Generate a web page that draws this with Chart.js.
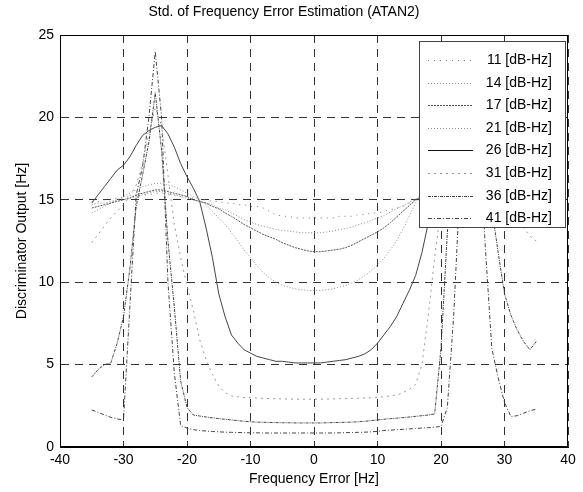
<!DOCTYPE html>
<html><head><meta charset="utf-8">
<script src="https://cdn.jsdelivr.net/npm/chart.js@4.4.0/dist/chart.umd.min.js"></script>
<style>html,body{margin:0;padding:0;background:#fff;}</style>
</head><body>
<canvas id="c" width="583" height="492" style="display:block;width:583px;height:492px"></canvas>
<script>
const freqHz = [-35,-34,-33,-32,-31,-30,-29,-28,-27,-26,-25,-24,-23,-22,-21,-20,-19,-18,-17,-16,
-15,-14,-13,-12,-11,-10,-9,-8,-7,-6,-5,-4,-3,-2,-1,0,1,2,3,4,5,6,7,8,9,10,11,12,13,14,
15,16,17,18,19,20,21,22,23,24,25,26,27,28,29,30,31,32,33,34,35];

const cn0Labels = ['11 [dB-Hz]','14 [dB-Hz]','17 [dB-Hz]','21 [dB-Hz]','26 [dB-Hz]','31 [dB-Hz]','36 [dB-Hz]','41 [dB-Hz]'];

const std11 = [14.9,14.9,15.0,15.0,15.1,15.1,15.2,15.2,15.3,15.3,
15.4,15.4,15.3,15.3,15.2,15.2,15.1,15.0,15.0,14.9,
14.9,14.8,14.8,14.7,14.7,14.6,14.6,14.5,14.3,14.1,
14.0,14.0,13.9,13.9,13.9,13.9,13.9,13.9,13.9,14.0,
14.0,14.0,14.1,14.1,14.2,14.2,14.3,14.4,14.5,14.6,
14.8,15.0,15.1,15.2,15.3,15.3,15.3,15.3,15.4,15.4,
15.4,15.4,15.3,15.3,15.2,15.2,15.1,15.1,15.0,15.0,15.0];

const std14 = [14.7,14.8,14.8,14.9,15.0,15.0,15.1,15.2,15.3,15.4,
15.5,15.5,15.4,15.3,15.2,15.1,15.0,14.9,14.8,14.7,
14.5,14.4,14.2,14.0,13.8,13.65,13.5,13.4,13.3,13.2,
13.15,13.1,13.05,13.0,13.0,13.0,13.0,13.05,13.1,13.2,
13.25,13.35,13.5,13.6,13.75,13.9,14.05,14.25,14.45,14.65,
14.85,15.05,15.2,15.3,15.4,15.4,15.4,15.4,15.5,15.5,
15.5,15.5,15.4,15.4,15.3,15.2,15.2,15.1,15.0,15.0,14.9];

const std17 = [14.5,14.6,14.7,14.8,14.9,15.0,15.1,15.3,15.4,15.5,
15.6,15.6,15.5,15.4,15.3,15.2,15.0,14.9,14.8,14.6,
14.45,14.2,14.0,13.75,13.5,13.3,13.1,12.9,12.75,12.6,
12.4,12.25,12.1,12.0,11.9,11.85,11.85,11.9,11.95,12.0,
12.1,12.25,12.45,12.65,12.85,13.05,13.3,13.6,13.95,14.3,
14.65,15.0,15.2,15.4,15.5,15.6,15.6,15.6,15.6,15.7,
15.7,15.6,15.6,15.5,15.4,15.3,15.2,15.1,15.0,14.9,14.8];

const std21 = [14.2,14.4,14.6,14.8,15.0,15.2,15.4,15.6,15.8,15.9,
16.0,16.0,15.9,15.8,15.6,15.4,15.2,15.0,14.7,14.3,
13.9,13.5,13.0,12.5,11.95,11.5,11.0,10.6,10.25,10.0,
9.8,9.7,9.6,9.55,9.5,9.5,9.5,9.55,9.6,9.7,
9.8,9.95,10.15,10.4,10.7,11.05,11.45,11.95,12.5,13.2,
14.0,14.8,15.4,15.8,16.0,16.1,16.1,16.0,16.0,16.1,
16.1,16.0,15.9,15.8,15.6,15.4,15.2,15.0,14.8,14.6,14.4];

const std26 = [14.8,15.3,15.8,16.3,16.8,17.1,17.6,18.3,18.9,19.2,
19.4,19.5,19.0,18.2,17.2,16.4,15.7,14.9,13.3,11.5,
9.3,7.9,6.8,6.3,5.9,5.7,5.5,5.4,5.3,5.2,
5.2,5.15,5.1,5.1,5.1,5.1,5.1,5.15,5.2,5.25,
5.3,5.4,5.5,5.65,5.9,6.3,6.8,7.3,7.9,8.7,
9.5,10.4,11.8,13.6,15.2,16.4,17.3,18.1,18.8,19.2,
19.4,19.3,18.9,18.4,17.8,17.2,16.6,16.0,15.5,15.1,14.7];

const std31 = [12.4,12.9,13.4,13.9,14.3,14.7,15.2,15.9,17.2,19.0,
20.6,19.5,16.5,13.5,11.5,9.8,8.3,6.5,5.3,4.4,
3.7,3.3,3.1,3.05,3.0,3.0,2.97,2.95,2.94,2.93,
2.92,2.91,2.9,2.9,2.9,2.9,2.9,2.91,2.92,2.93,
2.94,2.95,2.96,2.97,2.98,3.0,3.05,3.1,3.15,3.3,
3.5,3.8,5.0,8.0,11.5,14.5,17.0,19.0,20.5,21.0,
20.5,19.0,17.5,16.2,15.3,14.6,14.2,13.8,13.3,12.8,12.5];

const std36 = [4.25,4.7,5.0,5.1,6.3,7.9,10.8,14.6,16.5,18.5,
21.5,18.0,12.5,8.5,4.0,2.4,1.94,1.88,1.82,1.77,
1.72,1.68,1.64,1.6,1.56,1.53,1.51,1.5,1.49,1.48,
1.47,1.47,1.46,1.46,1.46,1.46,1.46,1.47,1.48,1.49,
1.5,1.51,1.53,1.56,1.6,1.64,1.68,1.72,1.75,1.78,
1.82,1.86,1.9,1.94,2.0,6.0,13.0,17.5,20.0,22.0,
21.0,18.0,16.0,14.5,11.8,9.3,8.0,7.1,6.4,5.9,6.4];

const std41 = [2.25,2.1,1.95,1.8,1.7,1.64,8.5,15.3,17.0,20.0,
24.0,20.0,10.0,4.5,1.3,1.15,1.05,1.0,0.97,0.94,
0.92,0.9,0.89,0.88,0.87,0.86,0.86,0.85,0.85,0.85,
0.85,0.85,0.85,0.85,0.85,0.85,0.85,0.85,0.85,0.86,
0.87,0.88,0.89,0.9,0.92,0.95,1.0,1.02,1.05,1.07,
1.1,1.12,1.15,1.17,1.2,1.25,2.4,8.0,16.0,21.0,
23.5,19.0,12.0,6.0,4.2,2.7,1.85,1.9,2.05,2.2,2.3];

const xTickValues = [-40,-30,-20,-10,0,10,20,30,40];
const yTickValues = [0,5,10,15,20,25];

const allSeries = [std11,std14,std17,std21,std26,std31,std36,std41];
const lineColors = ['#777','#8a8a8a','#555','#8a8a8a','#444','#999','#444','#444'];
const lineDashes = [[1,5],[1,2],[2,1],[1,2],[],[2,4],[3,1,1,1],[4,2,1,2]];

const FONT = '"Liberation Sans", Arial, Helvetica, sans-serif';

const datasets = allSeries.map((s,i)=>({
  label: cn0Labels[i],
  data: s.map((v,j)=>({x:freqHz[j], y:v})),
  borderColor: lineColors[i],
  borderDash: lineDashes[i],
  borderWidth: 1,
  pointRadius: 0,
  tension: 0,
  fill: false
}));

const framePlugin = {
  id:'frameAndLegend',
  afterDatasetsDraw(chart){
    const ctx = chart.ctx, a = chart.chartArea;
    ctx.save();
    ctx.setLineDash([]);
    ctx.strokeStyle = '#000'; ctx.lineWidth = 1;
    ctx.strokeRect(Math.round(a.left)+0.5, Math.round(a.top)+0.5, Math.round(a.right-a.left)-1, Math.round(a.bottom-a.top)-1);
    const R = a.right - 3, L = R - 146, T = a.top + 6, B = T + 186;
    ctx.fillStyle = '#fff';
    ctx.fillRect(L, T, R-L, B-T);
    ctx.strokeStyle = '#444';
    ctx.strokeRect(Math.round(L)+0.5, Math.round(T)+0.5, Math.round(R-L), Math.round(B-T));
    ctx.font = '14px ' + FONT;
    ctx.textAlign = 'right'; ctx.textBaseline = 'middle';
    chart.data.datasets.forEach((ds,i)=>{
      const y = Math.round(T + 19 + i*22.6) + 0.5;
      ctx.strokeStyle = i === 4 ? '#111' : ds.borderColor; ctx.lineWidth = 1;
      ctx.setLineDash(ds.borderDash || []);
      ctx.beginPath(); ctx.moveTo(L+9, y); ctx.lineTo(L+54, y); ctx.stroke();
      ctx.setLineDash([]);
      ctx.fillStyle = '#000';
      ctx.fillText(ds.label, R-13, y);
    });
    ctx.restore();
  }
};

new Chart(document.getElementById('c'), {
  type:'line',
  data:{datasets},
  options:{
    responsive:false,
    animation:false,
    layout:{padding:{left:0,right:15,top:0,bottom:0}},
    plugins:{
      legend:{display:false},
      tooltip:{enabled:false},
      title:{display:true, text:'Std. of Frequency Error Estimation (ATAN2)', color:'#000',
        font:{family:FONT, size:14, weight:'normal'}, padding:{top:4,bottom:14.2}}
    },
    scales:{
      x:{type:'linear', min:-40, max:40,
        afterFit(s){ s.height = 45; },
        afterBuildTicks(s){ s.ticks = xTickValues.map(v=>({value:v})); },
        ticks:{color:'#000', font:{family:FONT,size:14}, padding:5, maxRotation:0},
        grid:{color:'#333', lineWidth:1, drawTicks:false},
        border:{display:true, color:'#000', dash:[8,6]},
        title:{display:true, text:'Frequency Error [Hz]', color:'#000', font:{family:FONT,size:14}, padding:{top:0,bottom:4.6}}
      },
      y:{type:'linear', min:0, max:25,
        afterFit(s){ s.width = 60; },
        afterBuildTicks(s){ s.ticks = yTickValues.map(v=>({value:v})); },
        ticks:{color:'#000', font:{family:FONT,size:14}, padding:6},
        grid:{color:'#333', lineWidth:1, drawTicks:false},
        border:{display:true, color:'#000', dash:[8,6]},
        title:{display:true, text:'Discriminator Output [Hz]', color:'#000', font:{family:FONT,size:14}, padding:{top:13.6,bottom:0}}
      }
    }
  },
  plugins:[framePlugin]
});
</script>
</body></html>
